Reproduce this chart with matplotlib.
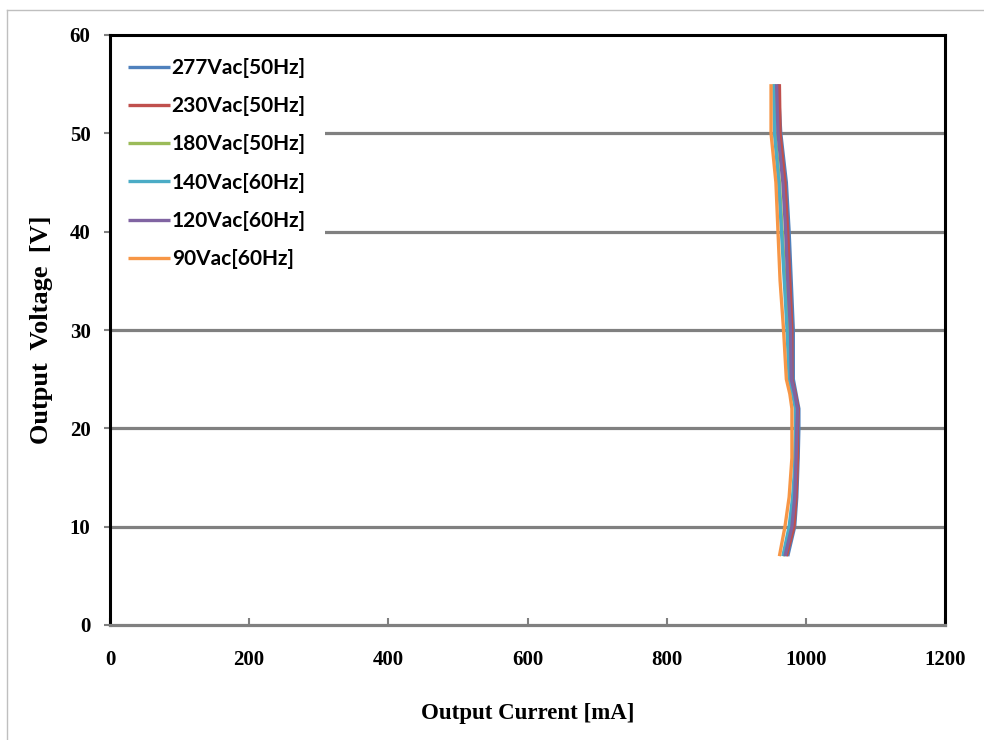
import matplotlib.pyplot as plt
from matplotlib.lines import Line2D

# 출력 전압 측정점 [V]
voltage = [55, 50, 45, 40, 35, 30, 25, 23.5, 22, 20, 17, 15, 13, 10, 7]

# 입력 조건별 출력 전류 [mA]
cur_277 = [960, 964, 972, 976, 979, 982, 982, 986, 990, 990, 989, 988, 987, 984, 974]
cur_230 = [962, 963, 970, 974, 977, 980, 980, 985, 989, 988, 988, 987, 986, 983, 972]
cur_180 = [955, 956, 962, 966, 970, 975, 977, 982, 986, 986, 985, 984, 982, 978, 968]
cur_140 = [954, 955, 961, 965, 969, 973, 976, 981, 985, 985, 984, 983, 981, 976, 967]
cur_120 = [958, 960, 967, 971, 974, 978, 979, 984, 988, 987, 986, 985, 984, 980, 970]
cur_90 = [950, 950, 957, 960, 963, 968, 972, 977, 980, 980, 980, 978, 976, 970, 962]

labels = ['277Vac[50Hz]', '230Vac[50Hz]', '180Vac[50Hz]',
          '140Vac[60Hz]', '120Vac[60Hz]', '90Vac[60Hz]']
series = [cur_277, cur_230, cur_180, cur_140, cur_120, cur_90]
colors = ['#4F81BD', '#C0504D', '#9BBB59', '#4BACC6', '#8064A2', '#F79646']

x_ticks = [0, 200, 400, 600, 800, 1000, 1200]
y_ticks = [0, 10, 20, 30, 40, 50, 60]

fig = plt.figure(figsize=(9.84, 7.40), dpi=100)
ax = fig.add_axes([110 / 984, 1 - 625 / 740, 835 / 984, 590 / 740])

for cur, lab, col in zip(series, labels, colors):
    ax.plot(cur, voltage, color=col, linewidth=2.4, label=lab,
            solid_capstyle='butt', solid_joinstyle='round')

ax.set_xlim(0, 1200)
ax.set_ylim(0, 60)
ax.set_xticks(x_ticks)
ax.set_yticks(y_ticks)

# 격자선
for v in y_ticks[1:-1]:
    ax.axhline(v, color='#808080', linewidth=2.3, zorder=0.5)

for side in ['left', 'top', 'right']:
    ax.spines[side].set_color('black')
    ax.spines[side].set_linewidth(2.2)
ax.spines['bottom'].set_color('#808080')
ax.spines['bottom'].set_linewidth(2.3)

ax.tick_params(axis='x', direction='in', length=5, width=1.5, color='#808080',
               pad=18)
ax.tick_params(axis='y', direction='out', length=4, width=1.5, color='#808080',
               pad=10)
for t in ax.get_xticklabels() + ax.get_yticklabels():
    t.set_fontfamily('Liberation Serif')
    t.set_fontweight('bold')
    t.set_fontsize(15)

ax.set_xlabel('Output Current [mA]', family='Liberation Serif',
              fontweight='bold', fontsize=16.5, labelpad=24)
ax.set_ylabel('Output  Voltage  [V]', family='Liberation Serif',
              fontweight='bold', fontsize=19, labelpad=12)

leg = ax.legend(loc='upper left', bbox_to_anchor=(-0.006, 1.0), frameon=True,
                facecolor='white', edgecolor='none', framealpha=1,
                prop={'family': 'Lato', 'weight': 'bold', 'size': 15},
                handlelength=2.0, handletextpad=0.1, labelspacing=0.875,
                borderpad=0.9, borderaxespad=0.2, fancybox=False)
leg.get_frame().set_linewidth(0)
leg.set_zorder(2.2)  # 축 테두리 아래에 그리기

# 바깥 테두리
fig.add_artist(Line2D([7 / 984, 1], [1 - 10 / 740, 1 - 10 / 740],
                      color='#BFBFBF', linewidth=1))
fig.add_artist(Line2D([7 / 984, 7 / 984], [0, 1 - 10 / 740],
                      color='#BFBFBF', linewidth=1))

fig.savefig('out.png', dpi=100)
